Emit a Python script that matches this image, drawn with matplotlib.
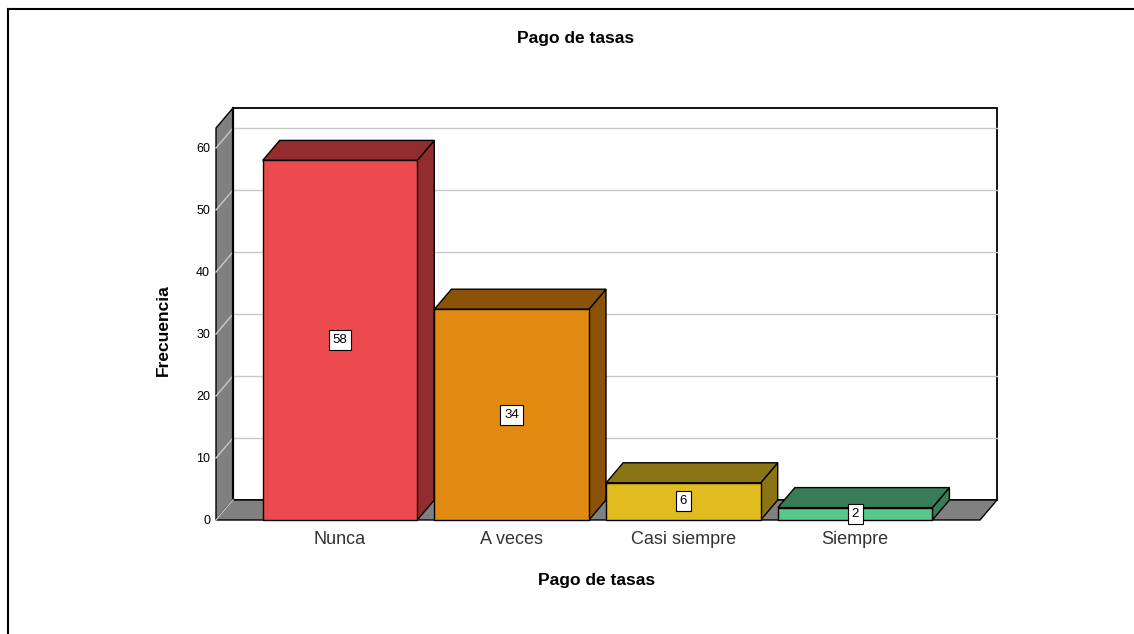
import matplotlib
matplotlib.use("Agg")
import matplotlib.pyplot as plt
from matplotlib.patches import Polygon
from matplotlib.lines import Line2D
import matplotlib.transforms as mtransforms
from matplotlib.transforms import IdentityTransform

categories = ["Nunca", "A veces", "Casi siempre", "Siempre"]
values = [58, 34, 6, 2]
yticks = [0, 10, 20, 30, 40, 50, 60]
front_colors = ["#EC4A4E", "#E08A12", "#E0BC20", "#57C98A"]
side_colors = ["#932C2F", "#8B5309", "#8A7416", "#387D57"]
title = "Pago de tasas"
xlabel = "Pago de tasas"
ylabel = "Frecuencia"

plt.rcParams["font.family"] = ["Liberation Sans", "DejaVu Sans"]

W, H = 1134, 634
fig = plt.figure(figsize=(W / 100, H / 100), dpi=100)

# front plane of the 3D box in pixels
px_left, px_right, px_bottom, px_top = 216, 980, 520, 128
ax = fig.add_axes([px_left / W, (H - px_bottom) / H,
                   (px_right - px_left) / W, (px_bottom - px_top) / H])
ax.set_xlim(-0.722, 3.727)
ax.set_ylim(0, (px_bottom - px_top) / 6.2)
ax.set_autoscale_on(False)
ax.axis("off")

DX, DY = 17, 20  # depth offset in pixels
back = mtransforms.offset_copy(ax.transData, fig=fig, x=DX, y=DY, units="dots")
fr = ax.transData
x0, x1 = ax.get_xlim()
y0, y1 = ax.get_ylim()
ident = IdentityTransform()


def poly(pts_trans, fc, ec="black", lw=1.0, z=1):
    pts = [t.transform(p) for p, t in pts_trans]
    p = Polygon(pts, closed=True, facecolor=fc, edgecolor=ec, linewidth=lw,
                transform=ident, zorder=z, joinstyle="miter", clip_on=False)
    ax.add_artist(p)
    return p


def line(pts_trans, color, lw=1.0, z=1):
    pts = [t.transform(p) for p, t in pts_trans]
    xs = [p[0] for p in pts]
    ys = [p[1] for p in pts]
    ax.add_artist(Line2D(xs, ys, color=color, linewidth=lw, transform=ident,
                         zorder=z, clip_on=False))


# back wall
poly([((x0, y0), back), ((x1, y0), back), ((x1, y1), back), ((x0, y1), back)],
     "white", "black", 1.3, 1)
for v in yticks[1:]:
    line([((x0, v), back), ((x1, v), back)], "#C8C8C8", 1.0, 1.1)
# left wall
poly([((x0, y0), fr), ((x0, y0), back), ((x0, y1), back), ((x0, y1), fr)],
     "#808080", "black", 1.0, 1.2)
for v in yticks[1:]:
    line([((x0, v), fr), ((x0, v), back)], "#C8C8C8", 1.0, 1.3)
line([((x0, y0), back), ((x0, y1), back)], "black", 1.6, 1.4)
# floor
poly([((x0, y0), fr), ((x1, y0), fr), ((x1, y0), back), ((x0, y0), back)],
     "#808080", "black", 1.0, 1.6)
line([((x0, y0), fr), ((x0, y0), back)], "#C8C8C8", 1.0, 1.65)

# bars
width = 0.90
for i, (v, fc, sc) in enumerate(zip(values, front_colors, side_colors)):
    l, r = i - width / 2, i + width / 2
    z = 2 + i * 0.1
    poly([((r, 0), fr), ((r, 0), back), ((r, v), back), ((r, v), fr)], sc, "black", 1.0, z)
    poly([((l, v), fr), ((r, v), fr), ((r, v), back), ((l, v), back)], sc, "black", 1.0, z)
    bars = ax.bar([i], [v], width=width, color=fc, edgecolor="black", linewidth=1.0,
                  zorder=z + 0.05)
    for b in bars:
        b.set_clip_on(False)
    ax.text(i, v / 2, str(v), ha="center", va="center", fontsize=9.5, zorder=5,
            bbox=dict(boxstyle="square,pad=0.3", facecolor="white", edgecolor="black",
                      linewidth=0.8))

# tick labels
for v in yticks:
    ax.text(x0, v, str(v), ha="right", va="center", fontsize=9, color="black",
            transform=mtransforms.offset_copy(fr, fig=fig, x=-6, y=-1, units="dots"))
for i, c in enumerate(categories):
    ax.text(i, 0, c, ha="center", va="top", fontsize=13, color="#333333",
            transform=mtransforms.offset_copy(fr, fig=fig, x=0, y=-11, units="dots"))

fig.text(576 / W, 1 - 39 / H, title, ha="center", va="center", fontsize=12.5, fontweight="bold")
fig.text(597 / W, 1 - 581 / H, xlabel, ha="center", va="center", fontsize=12.5, fontweight="bold")
fig.text(163 / W, 1 - 330 / H, ylabel, ha="center", va="center", fontsize=12.5, fontweight="bold",
         rotation=90)

# outer frame
fig.add_artist(Line2D([8 / W, 8 / W], [0, 1 - 9 / H], color="black", linewidth=1.5,
                      transform=fig.transFigure))
fig.add_artist(Line2D([8 / W, 1], [1 - 9 / H, 1 - 9 / H], color="black", linewidth=1.5,
                      transform=fig.transFigure))

fig.savefig("out.png", dpi=100)
